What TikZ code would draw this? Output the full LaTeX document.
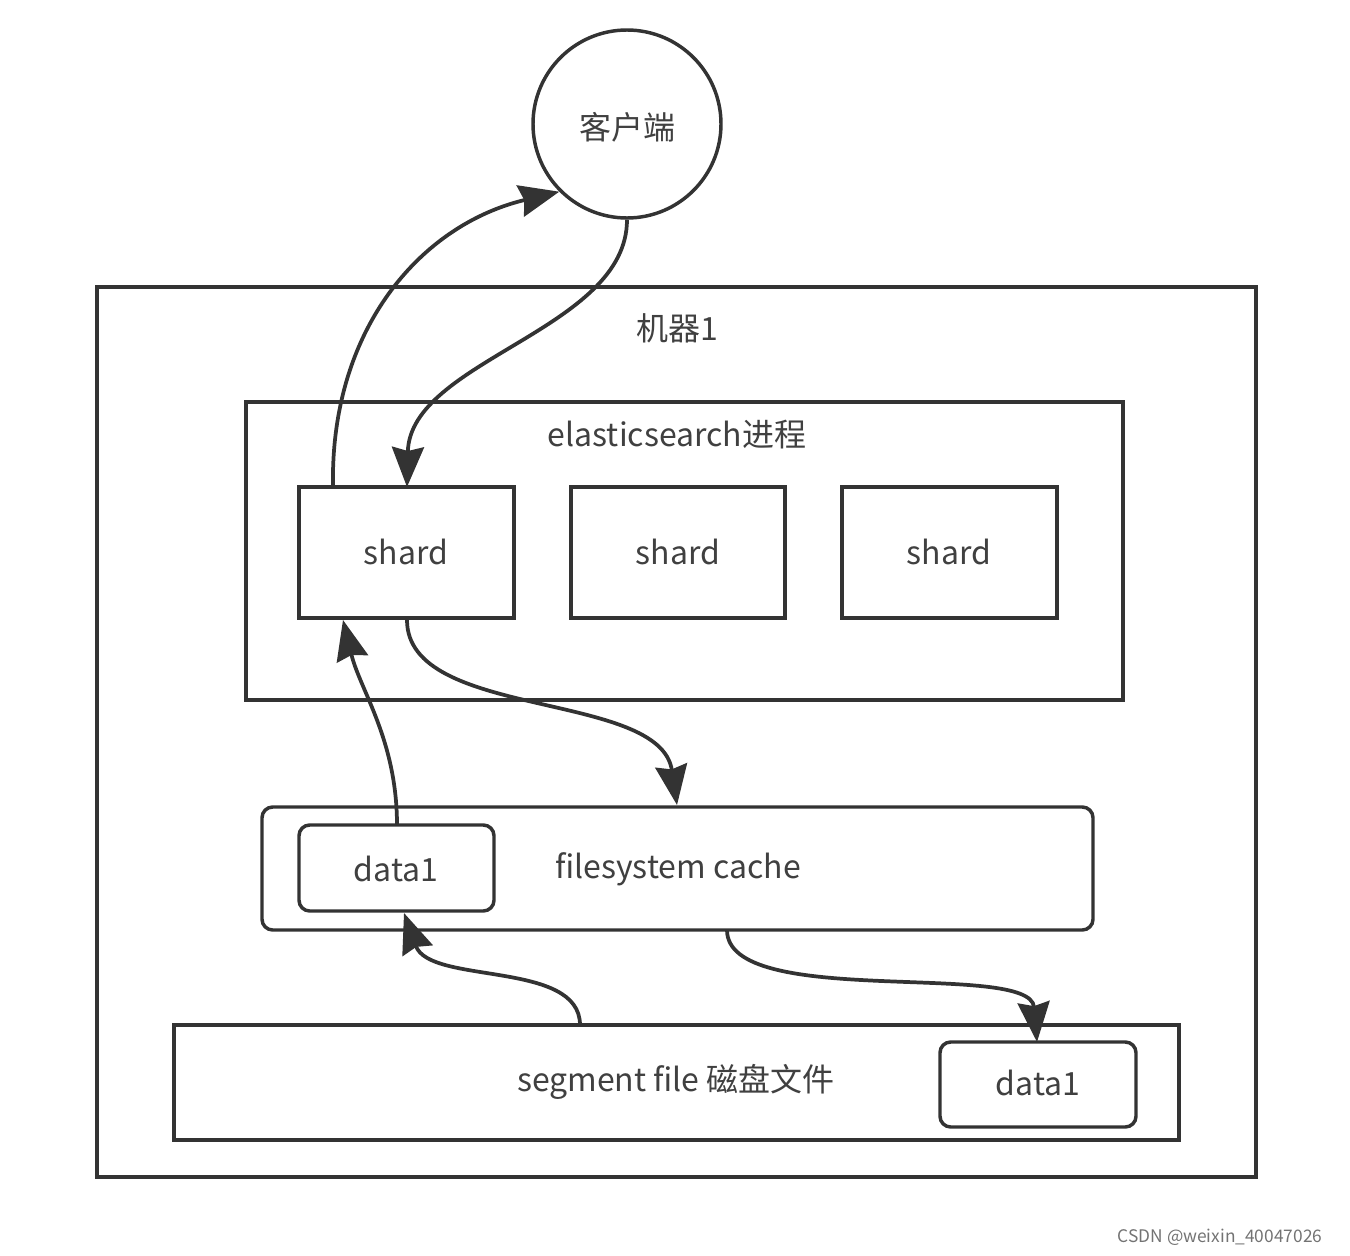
\documentclass[tikz,border=0pt]{standalone}
\usepackage{fontspec}
\setmainfont{Noto Sans CJK SC}
\usetikzlibrary{arrows.meta}
\begin{document}
\begin{tikzpicture}[x=0.75pt,y=-0.75pt,
 box/.style={draw=black!80,line width=2.6pt,inner sep=0pt},
 lbl/.style={font=\fontsize{24}{26}\selectfont,text=black!75},
 arr/.style={draw=black!80,line width=2.8pt,-{Stealth[length=30pt,width=24pt,inset=3pt]}}]
\useasboundingbox (0,0) rectangle (1350,1256);
\node[box,circle,minimum size=188pt*0.75] (cli) at (627,124) {};
\node[lbl] at (627,127) {客户端};
\draw[box] (97,287) rectangle (1256,1177);
\node[lbl] at (677,328) {机器1};
\draw[box] (246,402) rectangle (1123,700);
\node[lbl] at (677,435) {elasticsearch进程};
\draw[box] (299,487) rectangle (514,618);
\coordinate (s1l) at (333,487); \coordinate (s1r) at (407,487);
\coordinate (s1bl) at (343,620); \coordinate (s1br) at (407,620);
\node[lbl] at (406,552) {shard};
\draw[box] (571,487) rectangle (785,618); \node[lbl] at (678,552) {shard};
\draw[box] (842,487) rectangle (1057,618); \node[lbl] at (949,552) {shard};
\draw[box,rounded corners=8pt] (262,807) rectangle (1093,930);
\coordinate (fst) at (677,805); \coordinate (fsb) at (727,930);
\draw[box,rounded corners=8pt] (299,825) rectangle (494,911);
\coordinate (d1t) at (397,825); \coordinate (d1b) at (404,913);
\node[lbl] at (396,869) {data1};
\node[lbl] at (678,869) {filesystem cache};
\draw[box] (174,1025) rectangle (1179,1140);
\coordinate (segt) at (580,1025);
\node[lbl] at (676,1082) {segment file 磁盘文件};
\draw[box,rounded corners=8pt] (940,1042) rectangle (1136,1127);
\coordinate (d2t) at (1037,1042);
\node[lbl] at (1038,1083) {data1};
\node[font=\fontsize{13}{15}\selectfont,text=black!55] at (1220,1237) {CSDN @weixin\_40047026};
\draw[arr] (s1l) .. controls (330,330) and (420,225) .. (cli.225);
\draw[arr] (cli.south) .. controls (627,330) and (410,360) .. (s1r);
\draw[arr] (d1t) .. controls (397,740) and (360,690) .. (s1bl);
\draw[arr] (s1br) .. controls (407,720) and (660,690) .. (fst);
\draw[arr] (segt) .. controls (580,960) and (430,985) .. (d1b);
\draw[arr] (fsb) .. controls (727,1010) and (1030,960) .. (d2t);
\end{tikzpicture}
\end{document}
